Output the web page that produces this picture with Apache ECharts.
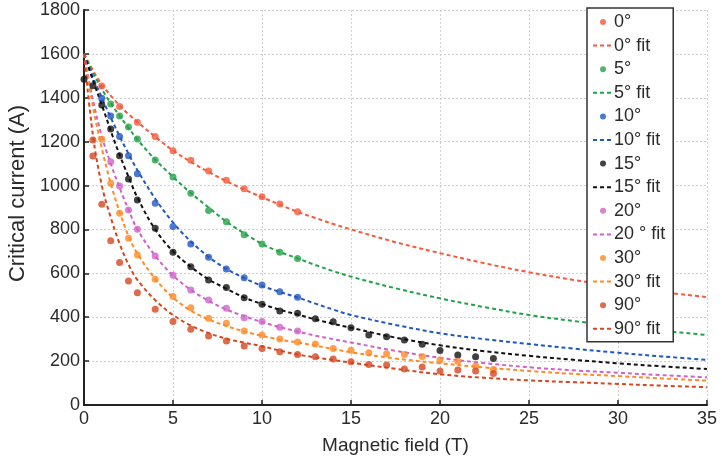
<!DOCTYPE html>
<html>
<head>
<meta charset="utf-8">
<script src="https://cdn.jsdelivr.net/npm/echarts@6/dist/echarts.min.js"></script>
<style>
  html, body { margin: 0; padding: 0; background: #fff; }
  #main { width: 722px; height: 457px; }
</style>
</head>
<body>
<div id="main"></div>
<script>
// measured points (field in T, current in A)
var deg0B = [1, 2, 3, 4, 5, 6, 7, 8, 9, 10, 11, 12];
var deg0I = [1454, 1360, 1288, 1223, 1159, 1115, 1066, 1024, 985, 949, 916, 881];
var deg5B = [1.5, 2, 2.5, 3, 4, 5, 6, 7, 8, 9, 10, 11, 12];
var deg5I = [1372, 1317, 1267, 1212, 1117, 1039, 965, 886, 835, 776, 734, 696, 668];
var deg10B = [1, 1.5, 2, 2.5, 3, 4, 5, 6, 7, 8, 9, 10, 11, 12];
var deg10I = [1398, 1317, 1223, 1136, 1054, 919, 813, 734, 673, 620, 580, 547, 516, 491];
var deg15B = [0, 0.5, 1, 1.5, 2, 2.5, 3, 4, 5, 6, 7, 8, 9, 10, 11, 12, 13, 14, 15, 16, 17, 18, 19, 20, 21, 22, 23];
var deg15I = [1485, 1455, 1367, 1258, 1136, 1030, 934, 805, 696, 630, 570, 535, 489, 459, 428, 418, 393, 379, 352, 319, 311, 296, 277, 248, 228, 220, 212];
var deg20B = [1.5, 2, 2.5, 3, 4, 5, 6, 7, 8, 9, 10, 11, 12];
var deg20I = [1109, 998, 889, 801, 679, 591, 524, 479, 441, 398, 380, 354, 337];
var deg30B = [1, 1.5, 2, 2.5, 3, 4, 5, 6, 7, 8, 9, 10, 11, 12, 13, 14, 15, 16, 17, 18, 19, 20, 21, 22, 23];
var deg30I = [1211, 1010, 874, 760, 684, 573, 494, 443, 395, 372, 337, 319, 301, 287, 278, 258, 250, 238, 233, 230, 221, 205, 199, 178, 162];
var deg90B = [0.5, 0.5, 1, 1.5, 2, 2.5, 3, 4, 5, 6, 7, 8, 9, 10, 11, 12, 13, 14, 15, 16, 17, 18, 19, 20, 21, 22, 23];
var deg90I = [1208, 1135, 915, 749, 649, 565, 512, 436, 380, 345, 314, 292, 269, 258, 243, 230, 220, 210, 197, 185, 182, 164, 173, 155, 160, 155, 144];

// fitted curves
var fitB = [0, 0.5, 1, 1.5, 2, 2.5, 3, 4, 5, 6, 7, 8, 9, 10, 11, 12, 13, 14, 15, 17.5, 20, 22.5, 25, 27.5, 30, 32.5, 35];
var fit0 = [1600, 1525, 1460, 1410, 1365, 1325, 1290, 1222, 1160, 1108, 1062, 1020, 982, 947, 913, 880, 852, 825, 800, 742, 692, 646, 605, 570, 540, 514, 492];
var fit5 = [1600, 1515, 1440, 1375, 1318, 1263, 1210, 1118, 1040, 966, 900, 836, 782, 734, 698, 668, 638, 610, 585, 532, 486, 446, 410, 383, 360, 338, 319];
var fit10 = [1600, 1495, 1400, 1310, 1225, 1145, 1070, 940, 832, 745, 675, 620, 578, 543, 515, 490, 462, 435, 410, 365, 327, 300, 278, 257, 238, 221, 206];
var fit15 = [1600, 1480, 1368, 1250, 1140, 1040, 945, 800, 700, 630, 572, 530, 490, 460, 434, 412, 390, 370, 352, 307, 272, 245, 224, 206, 190, 176, 164];
var fit20 = [1600, 1390, 1225, 1100, 990, 890, 800, 680, 590, 525, 475, 435, 405, 378, 355, 335, 316, 300, 285, 247, 215, 191, 172, 158, 147, 136, 126];
var fit30 = [1600, 1360, 1170, 1010, 880, 770, 690, 575, 490, 430, 390, 360, 335, 315, 298, 285, 270, 255, 240, 212, 190, 171, 155, 142, 132, 121, 111];
var fit90 = [1600, 1230, 1000, 855, 735, 640, 570, 478, 410, 362, 328, 302, 284, 268, 248, 230, 217, 205, 193, 165, 140, 124, 112, 104, 96, 88, 81];

var xTicks = [0, 5, 10, 15, 20, 25, 30, 35];
var yTicks = [0, 200, 400, 600, 800, 1000, 1200, 1400, 1600, 1800];

var groups = [
  { name: '0°', fitName: '0° fit', color: '#f8593a', B: deg0B, I: deg0I, fit: fit0 },
  { name: '5°', fitName: '5° fit', color: '#23a247', B: deg5B, I: deg5I, fit: fit5 },
  { name: '10°', fitName: '10° fit', color: '#1f57c3', B: deg10B, I: deg10I, fit: fit10 },
  { name: '15°', fitName: '15° fit', color: '#111111', B: deg15B, I: deg15I, fit: fit15 },
  { name: '20°', fitName: '20 ° fit', color: '#cf62cb', B: deg20B, I: deg20I, fit: fit20 },
  { name: '30°', fitName: '30° fit', color: '#ff8a26', B: deg30B, I: deg30I, fit: fit30 },
  { name: '90°', fitName: '90° fit', color: '#d6461f', B: deg90B, I: deg90I, fit: fit90 }
];

function zip(a, b) {
  return a.map(function (v, i) { return [v, b[i]]; });
}

var series = [];
var legendData = [];
groups.forEach(function (g) {
  legendData.push({ name: g.name });
  legendData.push({ name: g.fitName, itemStyle: { opacity: 0 } });
  series.push({
    name: g.fitName,
    type: 'line',
    data: zip(fitB, g.fit),
    smooth: 0.35,
    showSymbol: false,
    symbol: 'none',
    z: 2,
    lineStyle: { color: g.color, width: 2, type: [4, 3] },
    itemStyle: { color: g.color }
  });
  series.push({
    name: g.name,
    type: 'scatter',
    data: zip(g.B, g.I),
    symbol: 'circle',
    symbolSize: 7,
    z: 3,
    itemStyle: { color: g.color }
  });
});

var font = 'Liberation Sans, Arial, sans-serif';

var myChart = echarts.init(document.getElementById('main'), null, { renderer: 'canvas' });
myChart.setOption({
  animation: false,
  backgroundColor: '#fff',
  grid: { left: 84, right: 15, top: 10, bottom: 52, containLabel: false, outerBoundsMode: 'none' },
  xAxis: {
    type: 'value',
    min: xTicks[0],
    max: xTicks[xTicks.length - 1],
    interval: 5,
    name: 'Magnetic field (T)',
    nameLocation: 'middle',
    nameGap: 31,
    nameTextStyle: { fontFamily: font, fontSize: 19, color: '#2a2a2a' },
    axisLine: { lineStyle: { color: '#222', width: 2 } },
    axisTick: { inside: true, length: 5, lineStyle: { color: '#222', width: 1.5 } },
    axisLabel: { fontFamily: font, fontSize: 18, color: '#2a2a2a', margin: 5 },
    splitLine: { show: true, lineStyle: { color: '#cfcfcf', type: [2, 2], width: 1 } }
  },
  yAxis: {
    type: 'value',
    min: yTicks[0],
    max: yTicks[yTicks.length - 1],
    interval: 200,
    name: 'Critical current (A)',
    nameLocation: 'middle',
    nameGap: 54,
    nameTextStyle: { fontFamily: font, fontSize: 22, color: '#2a2a2a', padding: [0, 0, 0, 28] },
    axisLine: { lineStyle: { color: '#222', width: 2 } },
    axisTick: { inside: true, length: 5, lineStyle: { color: '#222', width: 1.5 } },
    axisLabel: {
      fontFamily: font, fontSize: 18, color: '#2a2a2a', margin: 4,
      formatter: function (v) { return String(v); }
    },
    splitLine: { show: true, lineStyle: { color: '#cfcfcf', type: [2, 2], width: 1 } }
  },
  legend: {
    data: legendData,
    orient: 'vertical',
    left: 587,
    top: 8,
    itemWidth: 20,
    itemHeight: 6,
    itemGap: 5.6,
    padding: [5, 8, 4, 5],
    backgroundColor: '#fff',
    borderColor: '#333',
    borderWidth: 1.5,
    borderRadius: 0,
    textStyle: { fontFamily: font, fontSize: 18, color: '#2a2a2a', lineHeight: 18, padding: [0, 0, 0, -4] },
    selectedMode: false
  },
  series: series
});
</script>
</body>
</html>
